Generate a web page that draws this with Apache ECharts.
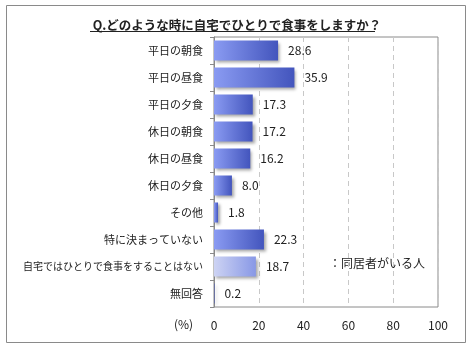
<!DOCTYPE html>
<html><head><meta charset="utf-8">
<script src="https://cdn.jsdelivr.net/npm/echarts@6/dist/echarts.min.js"></script>
<style>html,body{margin:0;padding:0;background:#fff}#c{width:470px;height:350px}</style>
</head><body><div id="c"></div>
<script>
const categories = ['平日の朝食','平日の昼食','平日の夕食','休日の朝食','休日の昼食','休日の夕食','その他','特に決まっていない','自宅ではひとりで食事をすることはない','無回答'];
const values = [28.6, 35.9, 17.3, 17.2, 16.2, 8.0, 1.8, 22.3, 18.7, 0.2];
const xTicks = [0, 20, 40, 60, 80, 100];
const titleText = 'Q.どのような時に自宅でひとりで食事をしますか？';
const legendText = '：同居者がいる人';
const FONT = '"Noto Sans CJK JP", sans-serif';

const normalColor = {type:'linear',x:0,y:0,x2:1,y2:0,colorStops:[{offset:0,color:'#8a9bf2'},{offset:1,color:'#4355bd'}]};
const lightColor = {type:'linear',x:0,y:0,x2:1,y2:0,colorStops:[{offset:0,color:'#cdd3f3'},{offset:1,color:'#8898e6'}]};

const chart = echarts.init(document.getElementById('c'));
chart.setOption({
  animation:false,
  title:{text:titleText,left:232,top:14,textAlign:'center',
    textStyle:{fontFamily:FONT,fontSize:12.5,fontWeight:'bold',color:'#222'}},
  grid:{left:214,right:32,top:37,bottom:43,show:true,borderColor:'#8a8a8a',borderWidth:1,
    containLabel:false,outerBoundsMode:'none'},
  xAxis:{type:'value',min:0,max:100,interval:20,
    axisLine:{show:false},axisTick:{show:false},
    splitLine:{show:true,lineStyle:{color:'#c8c8c8',type:[5,4]}},
    axisLabel:{fontFamily:FONT,fontSize:12,color:'#222',margin:12,
      formatter:v=>xTicks.includes(v)?String(v):''}},
  yAxis:{type:'category',data:categories,inverse:true,
    axisLine:{show:true,lineStyle:{color:'#8a8a8a'}},
    axisTick:{show:true,length:4,lineStyle:{color:'#8a8a8a'}},
    axisLabel:{fontFamily:FONT,fontSize:11,color:'#222',margin:11,
      formatter:v=>v.length>12?'{s|'+v+'}':v,
      rich:{s:{fontFamily:FONT,fontSize:10,color:'#222'}}}},
  series:[{type:'bar',barWidth:20,
    data:values.map((v,i)=>({value:v,itemStyle:{color:i===8?lightColor:normalColor}})),
    itemStyle:{shadowColor:'rgba(0,0,0,0.35)',shadowBlur:3,shadowOffsetX:2,shadowOffsetY:2},
    label:{show:true,position:'right',distance:10,fontFamily:FONT,fontSize:12,color:'#222',
      formatter:p=>p.value.toFixed(1)}}],
  graphic:[
    {type:'rect',shape:{x:6.5,y:5.5,width:459,height:337},style:{fill:'none',stroke:'#8a8a8a',lineWidth:1},silent:true},
    {type:'line',shape:{x1:90,y1:31.5,x2:375,y2:31.5},style:{stroke:'#222',lineWidth:1}},
    {type:'text',left:174,top:318,style:{text:'(%)',fontFamily:FONT,fontSize:12,fill:'#222'}},
    {type:'text',left:329,top:257,style:{text:legendText,fontFamily:FONT,fontSize:12,fill:'#222'}}
  ]
});
</script></body></html>
